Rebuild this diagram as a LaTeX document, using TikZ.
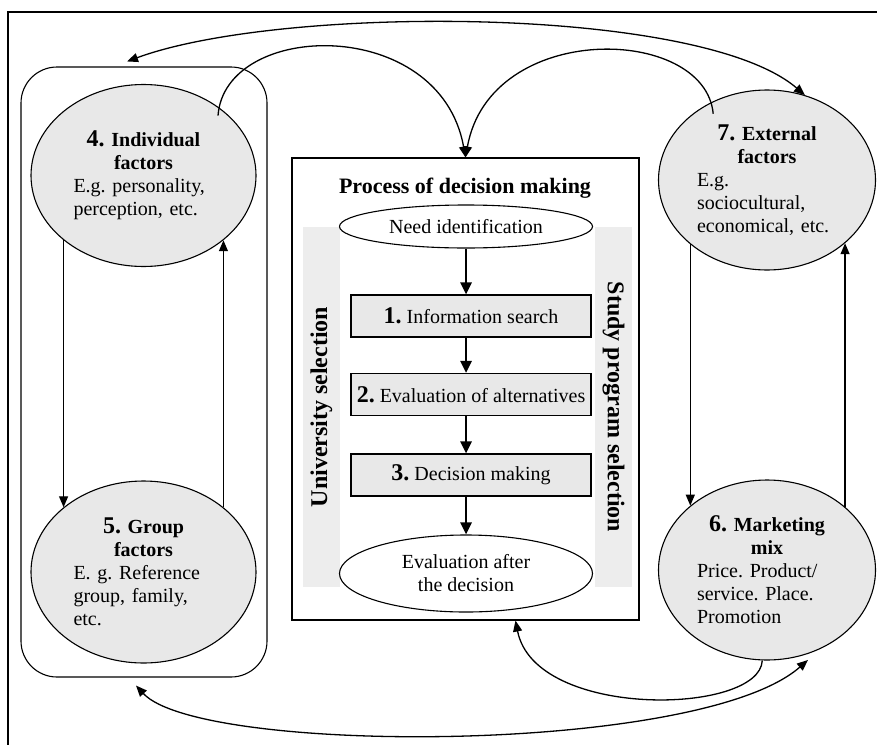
\documentclass[tikz,border=0pt]{standalone}
\usepackage{fontspec}
\setmainfont{Liberation Serif}
\usetikzlibrary{shapes.geometric,arrows.meta,positioning,calc}
\setlength{\parindent}{0pt}
\frenchspacing

\tikzset{
  factor/.style={draw, ellipse, fill=gray!18, inner sep=0pt, text width=140pt, align=left, font=\fontsize{20}{23}\selectfont},
  stage/.style={draw, ellipse, inner sep=0pt, minimum width=253pt, align=center, font=\fontsize{20}{23}\selectfont},
  stepbox/.style={draw, fill=gray!18, minimum width=240pt, minimum height=42pt, inner sep=0pt, font=\fontsize{20}{23}\selectfont},
  band/.style={fill=gray!14, minimum width=360pt, minimum height=37pt, inner sep=0pt, font=\fontsize{24}{28}\selectfont\bfseries},
  link/.style={line width=1.3pt, -{Triangle[length=11pt,width=9pt]}},
  twoway/.style={line width=1.3pt, {Triangle[length=11pt,width=9pt]}-{Triangle[length=11pt,width=9pt]}},
  flow/.style={line width=2.6pt, -{Triangle[length=12pt,width=11pt]}},
}
\newcommand{\num}[1]{{\fontsize{24}{23}\selectfont\bfseries #1}}
\newcommand{\ftitle}[2]{{\centering\textbf{\num{#1} #2}\par}}

\begin{document}
\begin{tikzpicture}[x=1pt, y=-1pt, line width=1.1pt]
  \useasboundingbox (0,0) rectangle (877,744);
  \clip (0,0) rectangle (877,744);
  % outer frame
  \draw (8,12) rectangle (890,760);

  % personal factors
  \node[draw, rounded corners=36pt, minimum width=246pt, minimum height=610pt, inner sep=0pt] (personal) at (144,372) {};
  \node[factor, minimum width=225pt, minimum height=182pt] (ind) at (143.5,175.5)
    {\ftitle{4.}{Individual\\factors}E.g. personality,\\perception, etc.};
  \node[factor, minimum width=225pt, minimum height=182pt] (grpf) at (143.5,572)
    {\ftitle{5.}{Group\\factors}E. g. Reference\\group, family,\\etc.};

  % environment factors
  \node[factor, minimum width=217pt, minimum height=180pt] (ext) at (767,180)
    {\ftitle{7.}{External\\factors}E.g.\\sociocultural,\\economical, etc.};
  \node[factor, minimum width=217pt, minimum height=180pt] (mkt) at (767,570)
    {\ftitle{6.}{Marketing\\mix}Price. Product/\\service. Place.\\Promotion};

  % process of decision making
  \node[draw, minimum width=347pt, minimum height=462pt, inner sep=0pt] (proc) at (465.5,389) {};
  \node[anchor=base, font=\fontsize{22}{26}\selectfont\bfseries] (ptitle) at (465,193) {Process of decision making};
  \node[band, rotate=90] (uni) at (321.5,407) {University selection};
  \node[band, rotate=-90] (study) at (613.5,407) {Study program selection};
  \node[stage, minimum height=43pt] (need) at (466,226.5) {Need identification};
  \node[stepbox] (s1) at (471,316) {\num{1.} Information search};
  \node[stepbox] (s2) at (471,394.5) {\num{2.} Evaluation of alternatives};
  \node[stepbox] (s3) at (471,475) {\num{3.} Decision making};
  \node[stage, minimum height=77pt] (eval) at (466,573.5) {Evaluation after\\the decision};

  \draw[flow] (need.south) -- (need.south |- s1.north);
  \draw[flow] (s1.south -| need.south) -- (s2.north -| need.south);
  \draw[flow] (s2.south -| need.south) -- (s3.north -| need.south);
  \draw[flow] (s3.south -| need.south) -- (eval.north);

  % vertical links
  \draw[link] (ind.-141.7) -- (grpf.141.7);
  \draw[link] (grpf.39.7) -- (ind.-39.7);
  \draw[link] (ext.-140.5) -- (mkt.140.5);
  \draw[link] (mkt.39.5) -- (ext.-39.5);

  % curved links
  \draw[twoway] ([shift={(-17,-5)}]personal.north) .. controls (280,5) and (700,5) .. (ext.66);
  \draw[link] ([shift={(-4,6)}]ind.40) .. controls (225,20) and (440,15) .. (proc.north);
  \draw[link] ([shift={(1,12)}]ext.125) .. controls (705,25) and (490,20) .. (proc.north);
  \draw[link] (mkt.-93) .. controls (760,715) and (535,720) .. ([xshift=50pt]proc.south);
  \draw[twoway] ([shift={(-8,8)}]personal.south) .. controls (200,755) and (700,755) .. ([yshift=-6pt]mkt.-64);
\end{tikzpicture}
\end{document}
